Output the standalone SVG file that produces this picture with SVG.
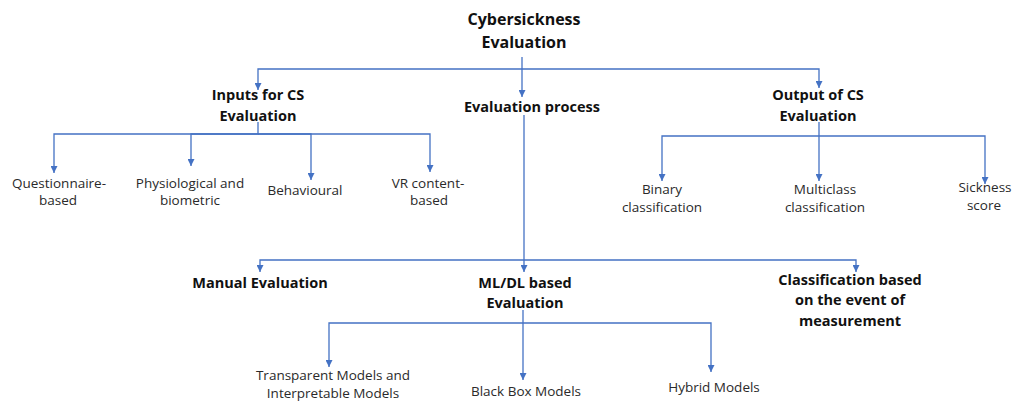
<svg xmlns="http://www.w3.org/2000/svg" width="1013" height="405" viewBox="0 0 1013 405">
<style>
text{font-family:"Open Sans","Liberation Sans",sans-serif;text-anchor:middle;fill:#1a1a1a}
.b{font-weight:bold;font-size:14.5px;fill:#111}
.t{font-size:16px}
.r{font-size:13.5px;fill:#2a2a2a}
.c{fill:none;stroke:#4472C4;stroke-width:1.3}
</style>
<defs>
<marker id="ah" markerUnits="userSpaceOnUse" markerWidth="7" markerHeight="7" refX="7" refY="3.5" orient="auto">
<path d="M0,0 L7,3.5 L0,7 z" fill="#4472C4"/>
</marker>
</defs>
<rect width="1013" height="405" fill="#fff"/>
<g id="connectors">
<path class="c" d="M522,57 V97" marker-end="url(#ah)"/>
<path class="c" d="M522,69 H258 V90" marker-end="url(#ah)"/>
<path class="c" d="M522,69 H819 V88" marker-end="url(#ah)"/>
<path class="c" d="M258,122 V134 H54 V173" marker-end="url(#ah)"/>
<path class="c" d="M258,134 H191 V166" marker-end="url(#ah)"/>
<path class="c" d="M258,134 H311 V180" marker-end="url(#ah)"/>
<path class="c" d="M258,134 H430 V172" marker-end="url(#ah)"/>
<path class="c" d="M819,122 V181" marker-end="url(#ah)"/>
<path class="c" d="M819,136 H662 V181" marker-end="url(#ah)"/>
<path class="c" d="M819,136 H985 V184" marker-end="url(#ah)"/>
<path class="c" d="M524,115 V272" marker-end="url(#ah)"/>
<path class="c" d="M524,260 H260 V272" marker-end="url(#ah)"/>
<path class="c" d="M524,260 H856 V272" marker-end="url(#ah)"/>
<path class="c" d="M523,310 V380" marker-end="url(#ah)"/>
<path class="c" d="M523,323 H329 V367" marker-end="url(#ah)"/>
<path class="c" d="M523,323 H711 V372" marker-end="url(#ah)"/>
</g>
<g id="root"><text class="b t" x="524" y="25">Cybersickness</text><text class="b t" x="524" y="48">Evaluation</text></g>
<g id="inputs"><text class="b" x="258" y="100">Inputs for CS</text><text class="b" x="258" y="121">Evaluation</text></g>
<g id="process"><text class="b" x="532" y="112">Evaluation process</text></g>
<g id="output"><text class="b" x="818" y="100">Output of CS</text><text class="b" x="818" y="121">Evaluation</text></g>
<g id="questionnaire"><text class="r" x="59" y="188">Questionnaire-</text><text class="r" x="58" y="205">based</text></g>
<g id="physiological"><text class="r" x="190" y="188">Physiological and</text><text class="r" x="190" y="205">biometric</text></g>
<g id="behavioural"><text class="r" x="305" y="195">Behavioural</text></g>
<g id="vrcontent"><text class="r" x="428" y="188">VR content-</text><text class="r" x="429" y="205">based</text></g>
<g id="binary"><text class="r" x="662" y="194">Binary</text><text class="r" x="662" y="212">classification</text></g>
<g id="multiclass"><text class="r" x="825" y="194">Multiclass</text><text class="r" x="825" y="212">classification</text></g>
<g id="sickness"><text class="r" x="985" y="192">Sickness</text><text class="r" x="984" y="210">score</text></g>
<g id="manual"><text class="b" x="260" y="288">Manual Evaluation</text></g>
<g id="mldl"><text class="b" x="525" y="288">ML/DL based</text><text class="b" x="525" y="308">Evaluation</text></g>
<g id="eventclass"><text class="b" x="850" y="285">Classification based</text><text class="b" x="850" y="305">on the event of</text><text class="b" x="850" y="326">measurement</text></g>
<g id="transparent"><text class="r" x="333" y="380">Transparent Models and</text><text class="r" x="333" y="398">Interpretable Models</text></g>
<g id="blackbox"><text class="r" x="526" y="396">Black Box Models</text></g>
<g id="hybrid"><text class="r" x="714" y="392">Hybrid Models</text></g>
</svg>
